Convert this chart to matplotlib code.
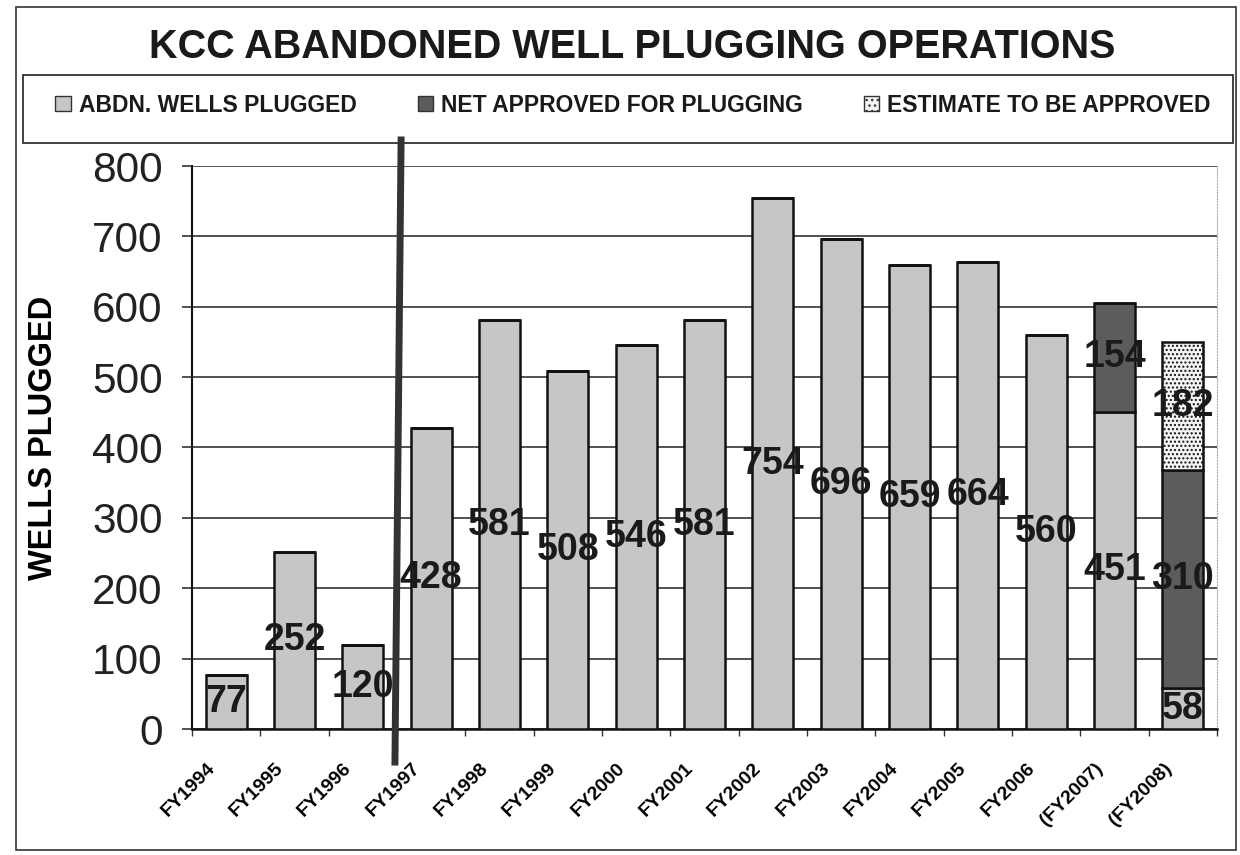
import matplotlib.pyplot as plt
import numpy as np
from matplotlib.patches import Rectangle, Patch

plt.rcParams['font.family'] = ['Liberation Sans', 'DejaVu Sans']
plt.rcParams['hatch.color'] = '#aaaaaa'

# data
years = ['FY1994', 'FY1995', 'FY1996', 'FY1997', 'FY1998', 'FY1999', 'FY2000',
         'FY2001', 'FY2002', 'FY2003', 'FY2004', 'FY2005', 'FY2006',
         '(FY2007)', '(FY2008)']
plugged = [77, 252, 120, 428, 581, 508, 546, 581, 754, 696, 659, 664, 560, 451, 58]
net_approved = [0, 0, 0, 0, 0, 0, 0, 0, 0, 0, 0, 0, 0, 154, 310]
estimate = [0, 0, 0, 0, 0, 0, 0, 0, 0, 0, 0, 0, 0, 0, 182]

series_names = ['ABDN. WELLS PLUGGED', 'NET APPROVED FOR PLUGGING', 'ESTIMATE TO BE APPROVED']
colors = ['#c6c6c6', '#5c5c5c', '#f4f4f4']

W, H = 1240, 855
fig = plt.figure(figsize=(W / 100, H / 100), dpi=100)
ax = fig.add_axes([192 / W, 1 - 729 / H, 1025 / W, (729 - 166) / H])

x = np.arange(len(years))
w = 0.6
p1 = np.array(plugged)
p2 = np.array(net_approved)
p3 = np.array(estimate)

ax.bar(x, p1, w, color=colors[0], edgecolor='#111111', linewidth=1.8, zorder=3)
ax.bar(x, p2, w, bottom=p1, color=colors[1], edgecolor='#111111', linewidth=1.8, zorder=3)
ax.bar(x, p3, w, bottom=p1 + p2, color=colors[2], edgecolor='#111111', linewidth=1.8,
       hatch='....', zorder=3)

# value labels in the middle of each segment
lab = dict(ha='center', va='center', fontsize=27, fontweight='bold', color='#1a1a1a', zorder=5)
for i in range(len(years)):
    ax.text(x[i], p1[i] / 2, str(p1[i]), **lab)
    if p2[i] > 0:
        ax.text(x[i], p1[i] + p2[i] / 2, str(p2[i]), **lab)
    if p3[i] > 0:
        ax.text(x[i], p1[i] + p2[i] + p3[i] / 2, str(p3[i]), **lab)

ax.set_xlim(-0.5, len(years) - 0.5)
ax.set_ylim(0, 800)
ax.set_yticks(range(0, 801, 100))
ax.yaxis.grid(True, color='#333333', linewidth=1.2, zorder=0)
ax.tick_params(axis='y', labelsize=30.5, length=7, width=1.2, color='#333333', pad=14)
for t in ax.get_yticklabels():
    t.set_color('#222222')

# category labels sit a little left of the bar centres, as in the original
ax.set_xticks(x - 0.29)
ax.set_xticklabels(years, rotation=45, ha='right', va='top', rotation_mode='anchor',
                   fontsize=14, fontweight='bold')
ax.set_xticks(np.arange(-0.5, len(years)), minor=True)
ax.tick_params(axis='x', which='major', length=0, pad=22)
ax.tick_params(axis='x', which='minor', length=5, width=1, color='#333333')

ax.set_ylabel('WELLS PLUGGED', fontsize=23.5, fontweight='bold')
ax.yaxis.set_label_coords((59 - 192) / 1025, (729 - 438) / 563)

ax.spines['top'].set_visible(False)
ax.spines['left'].set_color('#111111')
ax.spines['left'].set_linewidth(1.5)
ax.spines['bottom'].set_color('#111111')
ax.spines['bottom'].set_linewidth(1.8)
ax.spines['right'].set_color('#aaaaaa')
ax.spines['right'].set_linestyle(':')

# separator between FY1996 and FY1997 (slightly skewed like the scan)
ax.plot([2.47, 2.56], [-47, 837], color='#333333', linewidth=5, clip_on=False, zorder=6)

# title
fig.text(632 / W, 1 - 47 / H, 'KCC ABANDONED WELL PLUGGING OPERATIONS', ha='center', va='center',
         fontsize=28.5, fontweight='bold', color='#1a1a1a')

# legend, with its own frame box
handles = [Patch(facecolor=colors[0], edgecolor='#333333'),
           Patch(facecolor=colors[1], edgecolor='#333333'),
           Patch(facecolor=colors[2], edgecolor='#333333', hatch='...')]
leg = fig.legend(handles, series_names, loc='center', ncol=3, frameon=False,
                 bbox_to_anchor=(633 / W, 1 - 105 / H),
                 prop={'size': 16.5, 'weight': 'bold'},
                 handlelength=0.68, handleheight=0.68, handletextpad=0.35, columnspacing=2.65)
for t in leg.get_texts():
    t.set_color('#1a1a1a')
fig.patches.append(Rectangle((23 / W, 1 - 143 / H), 1210 / W, 68 / H,
                             transform=fig.transFigure, fill=False, edgecolor='#333333',
                             linewidth=1.3))

# outer frame
fig.patches.append(Rectangle((16 / W, 1 - 850 / H), 1220 / W, 843 / H,
                             transform=fig.transFigure, fill=False, edgecolor='#333333',
                             linewidth=1.2))

fig.savefig('out.png', dpi=100)
